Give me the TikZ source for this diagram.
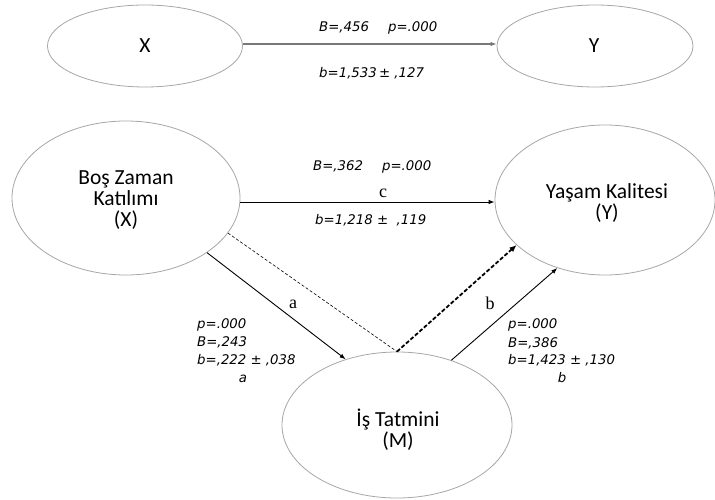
\documentclass[tikz,border=0pt]{standalone}
\usepackage{fontspec}
\setmainfont{Carlito}
\newfontfamily\labfont{DejaVu Sans}
\newfontfamily\letfont{Liberation Serif}
\usetikzlibrary{shapes.geometric,arrows.meta}
\definecolor{ellgray}{RGB}{166,166,166}
\definecolor{topline}{RGB}{120,120,120}
\begin{document}
\begin{tikzpicture}[x=1pt,y=-1pt,
  var/.style={ellipse,draw=ellgray,line width=0.8pt,inner sep=0pt},
  vartext/.style={align=center,inner sep=0pt,font=\fontsize{21.5}{21}\selectfont},
  coef/.style={font=\labfont\itshape\fontsize{13.3}{15}\selectfont,inner sep=0pt},
  pathlbl/.style={font=\letfont\fontsize{18}{18}\selectfont,inner sep=0pt,anchor=base},
  arr/.style={line width=0.9pt,-{Latex[length=6pt,width=4.5pt]}},
]
\path[use as bounding box] (0,0) rectangle (715,500);

% top model
\node[var,minimum width=195pt,minimum height=82pt] (X1) at (145,46) {};
\node[vartext] (X1t) at (145,46) {X};
\node[var,minimum width=196pt,minimum height=82pt] (Y1) at (595,46) {};
\node[vartext] (Y1t) at (594,46) {Y};
\draw[arr,draw=topline,line width=1.5pt] ([yshift=2pt]X1.east) -- ([yshift=2pt]Y1.west);
\node[coef,anchor=base west] (t1) at (319,32) {B=,456\hspace{19pt}p=.000};
\node[coef,anchor=base west] (t2) at (319,78) {b=1,533\,± ,127};

% mediation model
\node[var,minimum width=228pt,minimum height=154pt] (X) at (126,198) {};
\node[vartext] (Xt) at (126,200) {Boş Zaman\\Katılımı\\(X)};
\node[var,minimum width=220pt,minimum height=150pt] (Y) at (605,200) {};
\node[vartext] (Yt) at (607,203) {Yaşam Kalitesi\\(Y)};
\node[var,minimum width=230pt,minimum height=146pt] (M) at (397,425) {};
\node[vartext] (Mt) at (398,430) {İş Tatmini\\(M)};

% c path
\draw[arr] ([yshift=-4pt]X.east) -- ([yshift=-4pt]X.east -| Y.west);
\node[coef,anchor=base west] (c1) at (313,171) {B=,362\hspace{19pt}p=.000};
\node[pathlbl] (c) at (383,197) {c};
\node[coef,anchor=base west] (c2) at (315,224) {b=1,218 ±\ \ ,119};

% a path
\draw[arr] (X.-34) -- (M.128);
\node[pathlbl] (la) at (293,308) {a};
\node[coef,anchor=base west] (a1) at (197,328) {p=.000};
\node[coef,anchor=base west] (a2) at (197,346) {B=,243};
\node[coef,anchor=base west] (a3) at (197,364) {b=,222 ± ,038};
\node[coef,anchor=base] (a4) at (243,382) {a};

% b path
\draw[arr] (M.50) -- (Y.-125);
\node[pathlbl] (lb) at (490,309) {b};
\node[coef,anchor=base west] (b1) at (508,328) {p=.000};
\node[coef,anchor=base west] (b2) at (508,347) {B=,386};
\node[coef,anchor=base west] (b3) at (508,364) {b=1,423 ± ,130};
\node[coef,anchor=base] (b4) at (562,382) {b};

% indirect (dashed) path
\draw[line width=0.6pt,dash pattern=on 3pt off 2pt] (X.-19) -- (M.north);
\draw[line width=1.8pt,dash pattern=on 4pt off 2pt,-{Latex[length=7pt,width=6pt]}] (M.north) -- (Y.-153);
\end{tikzpicture}
\end{document}
